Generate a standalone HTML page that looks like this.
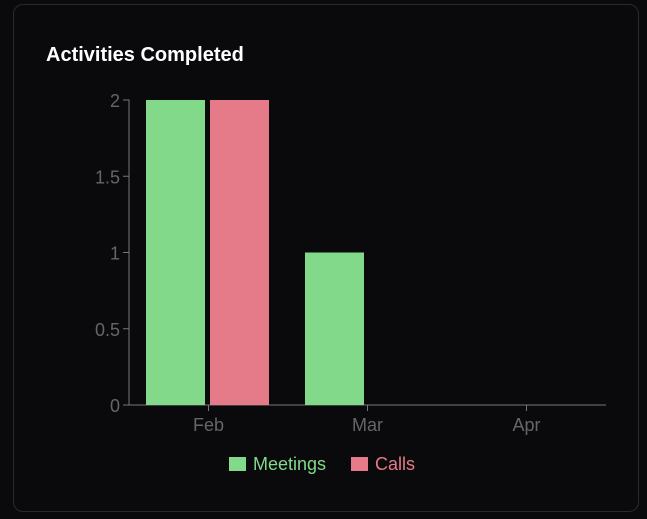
<!DOCTYPE html>
<html><head><meta charset="utf-8"><style>
html,body{margin:0;padding:0;background:#0a0a0c;width:647px;height:519px;overflow:hidden}
.card{position:absolute;left:13px;top:4px;width:626px;height:508px;border:1px solid #2a2a2e;border-radius:10px;background:#0a0a0c;box-sizing:border-box}
.title{position:absolute;left:46px;top:44px;color:#fff;font:bold 20px "Liberation Sans",sans-serif}
svg{position:absolute;left:0;top:0}
text{font-family:"Liberation Sans",sans-serif}
</style></head><body>
<div class="card"></div>
<div class="title">Activities Completed</div>
<svg id="c" width="647" height="519"></svg>
<script>
const categories=["Feb","Mar","Apr"];
const meetings=[2,1,0];
const calls=[2,0,0];
const yTicks=[0,0.5,1,1.5,2];
const yTickLabels=["0","0.5","1","1.5","2"];
const seriesNames=["Meetings","Calls"];
const colors=["#82d98a","#e57b88"];
const svg=document.getElementById('c');const NS="http://www.w3.org/2000/svg";
const X0=129,X1=606,Y0=405,Y1=100,yMax=2;
const bw=(X1-X0)/categories.length;
const y=v=>Y0-(v/yMax)*(Y0-Y1);
function mk(t,a,p){const e=document.createElementNS(NS,t);for(const k in a)e.setAttribute(k,a[k]);(p||svg).appendChild(e);return e;}
const ya=mk('path',{d:`M${X0-6},${Y1}H${X0}V${Y0}`,stroke:'#777',fill:'none','stroke-width':1});


const xa=mk('path',{d:`M${X0},${Y0}H${X1}`,stroke:'#777',fill:'none','stroke-width':1});


yTicks.forEach((v,i)=>{
 mk('line',{x1:X0-6,x2:X0,y1:y(v),y2:y(v),stroke:'#777'});
 const t=mk('text',{x:X0-9,y:y(v)+7,'text-anchor':'end',fill:'#666','font-size':18});
 t.textContent=yTickLabels[i];
 
 
});
categories.forEach((c,i)=>{
 const cx=X0+bw*i+bw/2;
 mk('line',{x1:cx,x2:cx,y1:Y0,y2:Y0+6,stroke:'#777'});
 const t=mk('text',{x:cx,y:Y0+26,'text-anchor':'middle',fill:'#666','font-size':18});
 t.textContent=c;
 
 
 const gx=X0+bw*i+17,w=59;
 [meetings[i],calls[i]].forEach((v,s)=>{
  if(v<=0)return;
  const r=mk('rect',{x:gx+s*(w+5),y:y(v),width:w,height:Y0-y(v),fill:colors[s]});
  
  
 });
});
const lg=[[229,253],[351,375]];
seriesNames.forEach((n,s)=>{
 const r=mk('rect',{x:lg[s][0],y:457,width:17,height:14,fill:colors[s]});
 
 
 const t=mk('text',{x:lg[s][1],y:470,fill:colors[s],'font-size':18});
 t.textContent=n;
 
 
});
</script>
</body></html>
